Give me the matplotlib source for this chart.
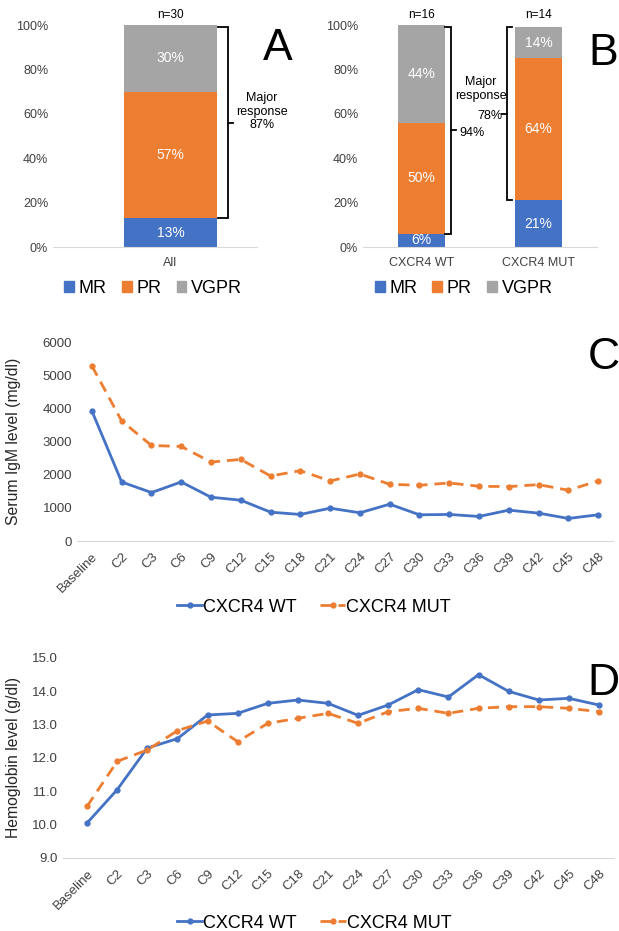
import numpy as np
import matplotlib.pyplot as plt
from matplotlib.patches import Patch

plt.rcParams["font.family"] = ["Liberation Sans", "DejaVu Sans"]

# ---------------------------------------------------------------------
# Data
# ---------------------------------------------------------------------
resp_labels = ["MR", "PR", "VGPR"]
all_vals = [13, 57, 30]
b_groups = ["CXCR4 WT", "CXCR4 MUT"]
b_n = ["n=16", "n=14"]
b_mr = [6, 21]
b_pr = [50, 64]
b_vgpr = [44, 14]

cycles = ["Baseline", "C2", "C3", "C6", "C9", "C12", "C15", "C18", "C21",
          "C24", "C27", "C30", "C33", "C36", "C39", "C42", "C45", "C48"]
igm_wt = [3920, 1780, 1460, 1780, 1320, 1230, 870, 800, 990,
          850, 1110, 790, 800, 740, 930, 840, 680, 790]
igm_mut = [5280, 3620, 2880, 2850, 2380, 2460, 1960, 2120, 1810,
           2020, 1710, 1680, 1750, 1650, 1640, 1700, 1530, 1810]
hb_wt = [10.05, 11.05, 12.3, 12.58, 13.29, 13.34, 13.64, 13.74, 13.64,
         13.28, 13.59, 14.05, 13.83, 14.5, 14.0, 13.74, 13.79, 13.59]
hb_mut = [10.55, 11.9, 12.24, 12.82, 13.11, 12.49, 13.04, 13.19, 13.34,
          13.04, 13.39, 13.49, 13.34, 13.49, 13.54, 13.54, 13.49, 13.39]

BLUE = "#4472C4"
ORANGE = "#ED7D31"
GRAY = "#A5A5A5"
colors = [BLUE, ORANGE, GRAY]

W, H = 619, 931
fig = plt.figure(figsize=(W / 100, H / 100), dpi=100)


def add_ax(left, top, right, bottom):
    return fig.add_axes([left / W, 1 - bottom / H,
                         (right - left) / W, (bottom - top) / H])


def style(ax):
    for s in ["top", "right", "left"]:
        ax.spines[s].set_visible(False)
    ax.spines["bottom"].set_color("#D9D9D9")
    ax.tick_params(length=0, labelsize=9, colors="#404040")


def bracket(ax, x, y0, y1, end, tick):
    ym = (y0 + y1) / 2
    ax.plot([end, x, x, end], [y0, y0, y1, y1], color="black", lw=1.3,
            clip_on=False, solid_joinstyle="miter")
    ax.plot([x, tick], [ym, ym], color="black", lw=1.3, clip_on=False)


def bar_legend(ax, x):
    ax.legend([Patch(color=c) for c in colors], resp_labels, loc="center",
              bbox_to_anchor=(x, -0.185), ncol=3, frameon=False, fontsize=13,
              handlelength=0.55, handleheight=0.55, handletextpad=0.25,
              columnspacing=0.85, borderpad=0)


pct = lambda v, p: f"{v:.0f}%"

# ---------------------------------------------------------------------
# Panel A
# ---------------------------------------------------------------------
axA = add_ax(53, 25, 257, 247)
style(axA)
bottom = 0
for val, col in zip(all_vals, colors):
    axA.bar(0, val, 0.46, bottom=bottom, color=col)
    axA.text(0, bottom + val / 2, f"{val}%", color="white", ha="center",
             va="center", fontsize=10)
    bottom += val
axA.set_xlim(-0.576, 0.424)
axA.set_ylim(0, 100)
axA.set_yticks(np.arange(0, 101, 20))
axA.yaxis.set_major_formatter(pct)
axA.set_xticks([0])
axA.set_xticklabels(["All"])
axA.tick_params(axis="x", pad=7)
axA.text(0, 102, "n=30", ha="center", va="bottom", fontsize=8.5)
bracket(axA, 0.282, all_vals[0], 99, 0.233, 0.306)
axA.text(0.449, 61, "Major\nresponse\n87%",
         ha="center", va="center", fontsize=9, linespacing=1.2)
axA.text(1.103, 0.985, "A", transform=axA.transAxes, fontsize=32,
         ha="center", va="top")
bar_legend(axA, 0.49)

# ---------------------------------------------------------------------
# Panel B
# ---------------------------------------------------------------------
axB = add_ax(363, 25, 597, 247)
style(axB)
xb = np.arange(len(b_groups))
bottoms = np.zeros(len(b_groups))
for vals, col in zip([b_mr, b_pr, b_vgpr], colors):
    axB.bar(xb, vals, 0.40, bottom=bottoms, color=col)
    for xi, v, b in zip(xb, vals, bottoms):
        axB.text(xi, b + v / 2, f"{v}%", color="white", ha="center",
                 va="center", fontsize=10)
    bottoms += vals
axB.set_xlim(-0.5, 1.5)
axB.set_ylim(0, 100)
axB.set_yticks(np.arange(0, 101, 20))
axB.yaxis.set_major_formatter(pct)
axB.set_xticks(xb)
axB.set_xticklabels(b_groups)
axB.tick_params(axis="x", pad=7)
for xi, n in zip(xb, b_n):
    axB.text(xi, 102, n, ha="center", va="bottom", fontsize=8.5)
bracket(axB, 0.252, b_mr[0], 99, 0.20, 0.295)
axB.text(0.32, 51.5, "94%", ha="left", va="center", fontsize=9)
bracket(axB, 0.73, b_mr[1], 99, 0.77, 0.688)
axB.text(0.688, 59, "78%", ha="right", va="center", fontsize=9)
axB.text(0.509, 71, "Major\nresponse", ha="center", va="center", fontsize=9,
         linespacing=1.2)
axB.text(1.55, 96.5, "B", fontsize=32, ha="center", va="top")
bar_legend(axB, 0.43)

# ---------------------------------------------------------------------
# Panels C and D
# ---------------------------------------------------------------------
xc = np.arange(len(cycles))


def line_panel(ax, wt, mut, xlo):
    style(ax)
    ax.plot(xc, wt, color=BLUE, lw=2, marker="o", ms=3.5,
            label="CXCR4 WT")
    ax.plot(xc, mut, color=ORANGE, lw=2, marker="o", ms=3.5,
            dashes=(4, 2.5), label="CXCR4 MUT")
    ax.set_xlim(xlo, len(cycles) - 0.5)
    ax.set_xticks(xc)
    ax.set_xticklabels(cycles, rotation=45, ha="right",
                       rotation_mode="anchor", fontsize=9.5)
    ax.tick_params(axis="x", pad=7)
    ax.tick_params(axis="y", labelsize=9.5)


axC = add_ax(77, 342, 613, 541)
line_panel(axC, igm_wt, igm_mut, -0.5)
axC.set_ylim(0, 6000)
axC.set_yticks(np.arange(0, 6001, 1000))
axC.set_ylabel("Serum IgM level (mg/dl)", fontsize=11.3, color="#262626")
axC.yaxis.set_label_coords(-0.104, 0.5)
axC.text(0.983, 1.025, "C", transform=axC.transAxes, fontsize=32,
         ha="center", va="top")
axC.legend(loc="center", bbox_to_anchor=(0.442, -0.332), ncol=2,
           frameon=False, fontsize=13, handlelength=1.4, handletextpad=0.05,
           columnspacing=1.3, borderpad=0)

axD = add_ax(63, 658, 614, 858)
line_panel(axD, hb_wt, hb_mut, -0.8)
axD.set_ylim(9, 15)
axD.set_yticks(np.arange(9, 15.01, 1))
axD.yaxis.set_major_formatter(lambda v, p: f"{v:.1f}")
axD.set_ylabel("Hemoglobin level (g/dl)", fontsize=11.3, color="#262626")
axD.yaxis.set_label_coords(-0.076, 0.5)
axD.text(0.981, 0.975, "D", transform=axD.transAxes, fontsize=32,
         ha="center", va="top")
axD.legend(loc="center", bbox_to_anchor=(0.456, -0.325), ncol=2,
           frameon=False, fontsize=13, handlelength=1.4, handletextpad=0.05,
           columnspacing=1.3, borderpad=0)

fig.savefig("out.png", dpi=100)
